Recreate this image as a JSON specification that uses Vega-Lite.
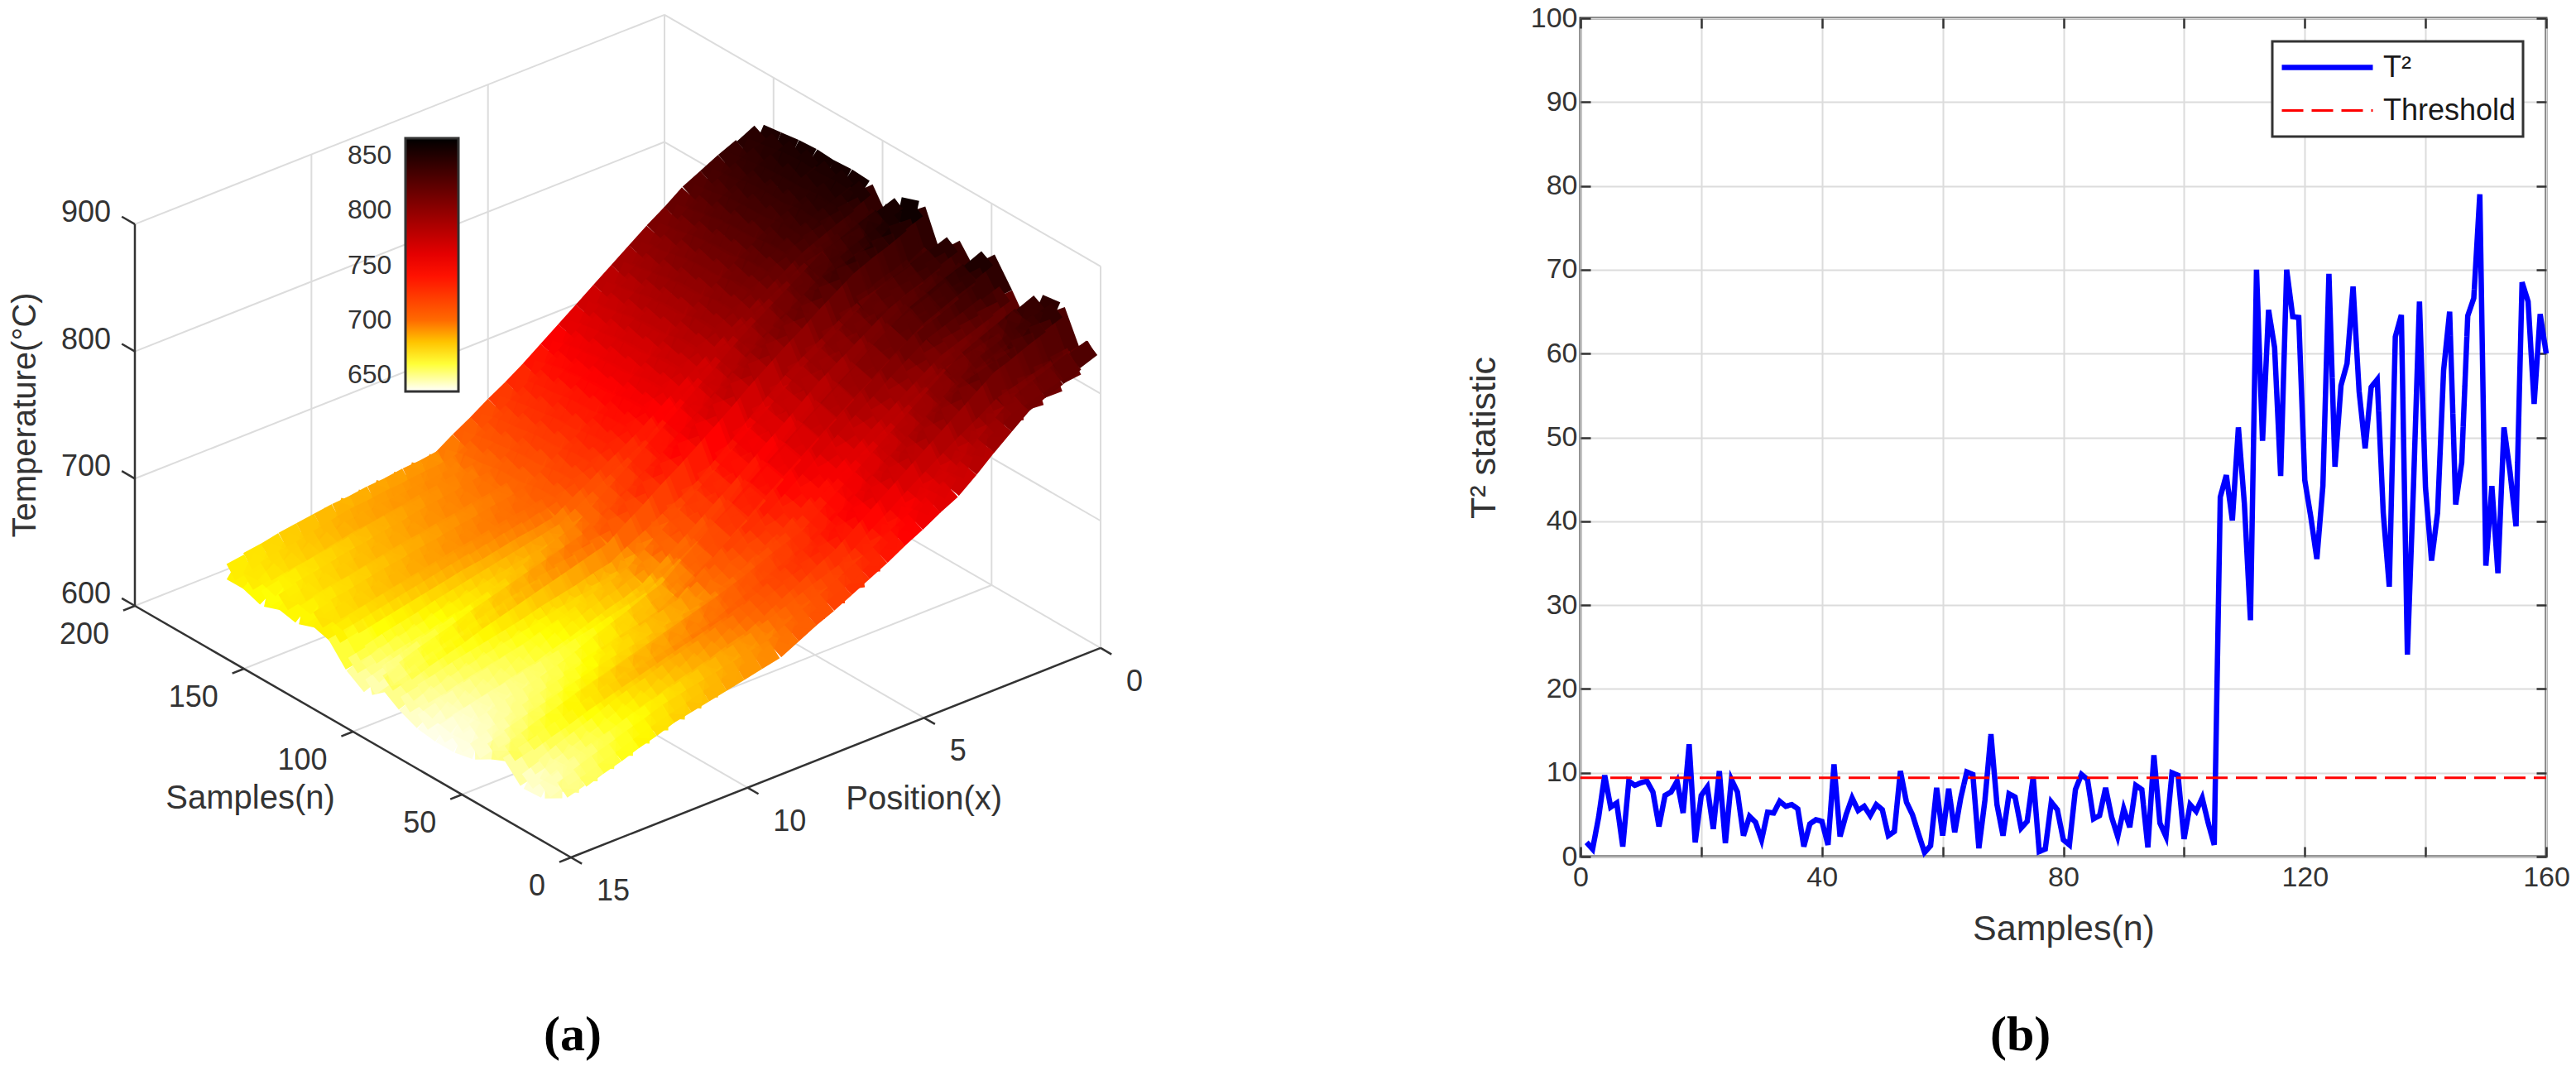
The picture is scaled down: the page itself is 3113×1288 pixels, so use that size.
{"$schema":"https://vega.github.io/schema/vega-lite/v6.json","padding":{"left":0,"top":3,"right":0,"bottom":0},"background":"white","spacing":0,"bounds":"flush","config":{"view":{"stroke":null},"font":"Liberation Sans","legend":{"strokeWidth":3}},
"resolve":{"scale":{"color":"independent","strokeDash":"independent","strokeWidth":"independent"},"legend":{"color":"independent","strokeDash":"independent","strokeWidth":"independent"}},
"datasets":{
"frame":[
{"k":"g","p":15,"s":200,"z":700,"p2":0,"s2":200,"z2":700},{"k":"g","p":15,"s":200,"z":800,"p2":0,"s2":200,"z2":800},{"k":"g","p":15,"s":200,"z":900,"p2":0,"s2":200,"z2":900},{"k":"g","p":15,"s":200,"z":600,"p2":0,"s2":200,"z2":600},
{"k":"g","p":10,"s":200,"z":600,"p2":10,"s2":200,"z2":900},{"k":"g","p":5,"s":200,"z":600,"p2":5,"s2":200,"z2":900},{"k":"g","p":0,"s":200,"z":600,"p2":0,"s2":200,"z2":900},
{"k":"g","p":0,"s":200,"z":700,"p2":0,"s2":0,"z2":700},{"k":"g","p":0,"s":200,"z":800,"p2":0,"s2":0,"z2":800},{"k":"g","p":0,"s":200,"z":900,"p2":0,"s2":0,"z2":900},{"k":"g","p":0,"s":200,"z":600,"p2":0,"s2":0,"z2":600},
{"k":"g","p":0,"s":150,"z":600,"p2":0,"s2":150,"z2":900},{"k":"g","p":0,"s":100,"z":600,"p2":0,"s2":100,"z2":900},{"k":"g","p":0,"s":50,"z":600,"p2":0,"s2":50,"z2":900},{"k":"g","p":0,"s":0,"z":600,"p2":0,"s2":0,"z2":900},
{"k":"g","p":15,"s":50,"z":600,"p2":0,"s2":50,"z2":600},{"k":"g","p":15,"s":100,"z":600,"p2":0,"s2":100,"z2":600},{"k":"g","p":15,"s":150,"z":600,"p2":0,"s2":150,"z2":600},
{"k":"g","p":5,"s":0,"z":600,"p2":5,"s2":200,"z2":600},{"k":"g","p":10,"s":0,"z":600,"p2":10,"s2":200,"z2":600},
{"k":"a","p":15,"s":200,"z":600,"p2":15,"s2":200,"z2":900},{"k":"a","p":15,"s":0,"z":600,"p2":15,"s2":200,"z2":600},{"k":"a","p":0,"s":0,"z":600,"p2":15,"s2":0,"z2":600},
{"k":"a","p":15,"s":200,"z":600,"p2":15,"s2":206,"z2":600},{"k":"a","p":15,"s":200,"z":700,"p2":15,"s2":206,"z2":700},{"k":"a","p":15,"s":200,"z":800,"p2":15,"s2":206,"z2":800},{"k":"a","p":15,"s":200,"z":900,"p2":15,"s2":206,"z2":900},
{"k":"a","p":15,"s":0,"z":600,"p2":15.33,"s2":0,"z2":600},{"k":"a","p":15,"s":50,"z":600,"p2":15.33,"s2":50,"z2":600},{"k":"a","p":15,"s":100,"z":600,"p2":15.33,"s2":100,"z2":600},{"k":"a","p":15,"s":150,"z":600,"p2":15.33,"s2":150,"z2":600},{"k":"a","p":15,"s":200,"z":600,"p2":15.33,"s2":200,"z2":600},
{"k":"a","p":0,"s":0,"z":600,"p2":0,"s2":-5,"z2":600},{"k":"a","p":5,"s":0,"z":600,"p2":5,"s2":-5,"z2":600},{"k":"a","p":10,"s":0,"z":600,"p2":10,"s2":-5,"z2":600},{"k":"a","p":15,"s":0,"z":600,"p2":15,"s2":-5,"z2":600}
],
"labels":[
{"k":"z","p":15,"s":200,"z":600,"text":"600"},{"k":"z","p":15,"s":200,"z":700,"text":"700"},{"k":"z","p":15,"s":200,"z":800,"text":"800"},{"k":"z","p":15,"s":200,"z":900,"text":"900"},
{"k":"s","p":15,"s":0,"z":600,"text":"0"},{"k":"s","p":15,"s":50,"z":600,"text":"50"},{"k":"s","p":15,"s":100,"z":600,"text":"100"},{"k":"s","p":15,"s":150,"z":600,"text":"150"},{"k":"s","p":15,"s":200,"z":600,"text":"200"},
{"k":"p","p":0,"s":0,"z":600,"text":"0"},{"k":"p","p":5,"s":0,"z":600,"text":"5"},{"k":"p","p":10,"s":0,"z":600,"text":"10"},{"k":"p","p":15,"s":0,"z":600,"text":"15"},
{"k":"ts","p":15,"s":100,"z":600,"text":"Samples(n)"},{"k":"tp","p":5,"s":0,"z":600,"text":"Position(x)"},{"k":"tz","p":15,"s":200,"z":750,"text":"Temperature(°C)"}
],
"surface":[
{"p":0,"s":156,"t":851},{"p":0.5,"s":156,"t":844},{"p":1,"s":156,"t":838},{"p":1.5,"s":156,"t":831},{"p":2,"s":156,"t":824},{"p":2.5,"s":156,"t":814},{"p":3,"s":156,"t":805},{"p":3.5,"s":156,"t":795},{"p":4,"s":156,"t":785},{"p":4.5,"s":156,"t":775},{"p":5,"s":156,"t":765},{"p":5.5,"s":156,"t":755},{"p":6,"s":156,"t":745},{"p":6.5,"s":156,"t":735},{"p":7,"s":156,"t":726},{"p":7.5,"s":156,"t":718},{"p":8,"s":156,"t":709},{"p":8.5,"s":156,"t":701},{"p":9,"s":156,"t":692},{"p":9.5,"s":156,"t":690},{"p":10,"s":156,"t":689},{"p":10.5,"s":156,"t":687},{"p":11,"s":156,"t":686},{"p":11.5,"s":156,"t":684},{"p":12,"s":156,"t":683},{"p":12.5,"s":156,"t":681},{"p":13,"s":156,"t":679},{"p":13.5,"s":156,"t":677},{"p":14,"s":156,"t":674},{"p":14.5,"s":156,"t":672},{"p":15,"s":156,"t":670},
{"p":0,"s":148,"t":853},{"p":0.5,"s":148,"t":846},{"p":1,"s":148,"t":840},{"p":1.5,"s":148,"t":833},{"p":2,"s":148,"t":826},{"p":2.5,"s":148,"t":816},{"p":3,"s":148,"t":806},{"p":3.5,"s":148,"t":797},{"p":4,"s":148,"t":787},{"p":4.5,"s":148,"t":777},{"p":5,"s":148,"t":767},{"p":5.5,"s":148,"t":758},{"p":6,"s":148,"t":748},{"p":6.5,"s":148,"t":738},{"p":7,"s":148,"t":730},{"p":7.5,"s":148,"t":721},{"p":8,"s":148,"t":713},{"p":8.5,"s":148,"t":704},{"p":9,"s":148,"t":696},{"p":9.5,"s":148,"t":694},{"p":10,"s":148,"t":693},{"p":10.5,"s":148,"t":691},{"p":11,"s":148,"t":690},{"p":11.5,"s":148,"t":688},{"p":12,"s":148,"t":687},{"p":12.5,"s":148,"t":684},{"p":13,"s":148,"t":681},{"p":13.5,"s":148,"t":678},{"p":14,"s":148,"t":676},{"p":14.5,"s":148,"t":673},{"p":15,"s":148,"t":670},
{"p":0,"s":140,"t":855},{"p":0.5,"s":140,"t":849},{"p":1,"s":140,"t":842},{"p":1.5,"s":140,"t":836},{"p":2,"s":140,"t":829},{"p":2.5,"s":140,"t":819},{"p":3,"s":140,"t":810},{"p":3.5,"s":140,"t":800},{"p":4,"s":140,"t":790},{"p":4.5,"s":140,"t":780},{"p":5,"s":140,"t":770},{"p":5.5,"s":140,"t":760},{"p":6,"s":140,"t":750},{"p":6.5,"s":140,"t":740},{"p":7,"s":140,"t":731},{"p":7.5,"s":140,"t":723},{"p":8,"s":140,"t":714},{"p":8.5,"s":140,"t":706},{"p":9,"s":140,"t":697},{"p":9.5,"s":140,"t":695},{"p":10,"s":140,"t":692},{"p":10.5,"s":140,"t":690},{"p":11,"s":140,"t":687},{"p":11.5,"s":140,"t":685},{"p":12,"s":140,"t":682},{"p":12.5,"s":140,"t":679},{"p":13,"s":140,"t":676},{"p":13.5,"s":140,"t":674},{"p":14,"s":140,"t":671},{"p":14.5,"s":140,"t":668},{"p":15,"s":140,"t":665},
{"p":0,"s":132,"t":856},{"p":0.5,"s":132,"t":850},{"p":1,"s":132,"t":843},{"p":1.5,"s":132,"t":837},{"p":2,"s":132,"t":830},{"p":2.5,"s":132,"t":821},{"p":3,"s":132,"t":811},{"p":3.5,"s":132,"t":802},{"p":4,"s":132,"t":792},{"p":4.5,"s":132,"t":782},{"p":5,"s":132,"t":772},{"p":5.5,"s":132,"t":762},{"p":6,"s":132,"t":752},{"p":6.5,"s":132,"t":742},{"p":7,"s":132,"t":734},{"p":7.5,"s":132,"t":725},{"p":8,"s":132,"t":717},{"p":8.5,"s":132,"t":708},{"p":9,"s":132,"t":700},{"p":9.5,"s":132,"t":698},{"p":10,"s":132,"t":695},{"p":10.5,"s":132,"t":693},{"p":11,"s":132,"t":691},{"p":11.5,"s":132,"t":688},{"p":12,"s":132,"t":686},{"p":12.5,"s":132,"t":683},{"p":13,"s":132,"t":681},{"p":13.5,"s":132,"t":678},{"p":14,"s":132,"t":675},{"p":14.5,"s":132,"t":673},{"p":15,"s":132,"t":670},
{"p":0,"s":124,"t":855},{"p":0.5,"s":124,"t":849},{"p":1,"s":124,"t":843},{"p":1.5,"s":124,"t":836},{"p":2,"s":124,"t":830},{"p":2.5,"s":124,"t":821},{"p":3,"s":124,"t":811},{"p":3.5,"s":124,"t":802},{"p":4,"s":124,"t":792},{"p":4.5,"s":124,"t":782},{"p":5,"s":124,"t":772},{"p":5.5,"s":124,"t":762},{"p":6,"s":124,"t":752},{"p":6.5,"s":124,"t":742},{"p":7,"s":124,"t":733},{"p":7.5,"s":124,"t":725},{"p":8,"s":124,"t":716},{"p":8.5,"s":124,"t":708},{"p":9,"s":124,"t":699},{"p":9.5,"s":124,"t":696},{"p":10,"s":124,"t":694},{"p":10.5,"s":124,"t":691},{"p":11,"s":124,"t":689},{"p":11.5,"s":124,"t":686},{"p":12,"s":124,"t":684},{"p":12.5,"s":124,"t":681},{"p":13,"s":124,"t":678},{"p":13.5,"s":124,"t":675},{"p":14,"s":124,"t":673},{"p":14.5,"s":124,"t":670},{"p":15,"s":124,"t":667},
{"p":0,"s":116,"t":856},{"p":0.5,"s":116,"t":850},{"p":1,"s":116,"t":845},{"p":1.5,"s":116,"t":839},{"p":2,"s":116,"t":833},{"p":2.5,"s":116,"t":824},{"p":3,"s":116,"t":815},{"p":3.5,"s":116,"t":805},{"p":4,"s":116,"t":796},{"p":4.5,"s":116,"t":786},{"p":5,"s":116,"t":776},{"p":5.5,"s":116,"t":765},{"p":6,"s":116,"t":755},{"p":6.5,"s":116,"t":745},{"p":7,"s":116,"t":737},{"p":7.5,"s":116,"t":728},{"p":8,"s":116,"t":720},{"p":8.5,"s":116,"t":711},{"p":9,"s":116,"t":703},{"p":9.5,"s":116,"t":700},{"p":10,"s":116,"t":698},{"p":10.5,"s":116,"t":695},{"p":11,"s":116,"t":693},{"p":11.5,"s":116,"t":690},{"p":12,"s":116,"t":688},{"p":12.5,"s":116,"t":685},{"p":13,"s":116,"t":683},{"p":13.5,"s":116,"t":680},{"p":14,"s":116,"t":677},{"p":14.5,"s":116,"t":675},{"p":15,"s":116,"t":672},
{"p":0,"s":108,"t":855},{"p":0.5,"s":108,"t":849},{"p":1,"s":108,"t":844},{"p":1.5,"s":108,"t":838},{"p":2,"s":108,"t":832},{"p":2.5,"s":108,"t":823},{"p":3,"s":108,"t":814},{"p":3.5,"s":108,"t":804},{"p":4,"s":108,"t":795},{"p":4.5,"s":108,"t":785},{"p":5,"s":108,"t":775},{"p":5.5,"s":108,"t":765},{"p":6,"s":108,"t":755},{"p":6.5,"s":108,"t":745},{"p":7,"s":108,"t":736},{"p":7.5,"s":108,"t":728},{"p":8,"s":108,"t":719},{"p":8.5,"s":108,"t":711},{"p":9,"s":108,"t":702},{"p":9.5,"s":108,"t":699},{"p":10,"s":108,"t":697},{"p":10.5,"s":108,"t":694},{"p":11,"s":108,"t":691},{"p":11.5,"s":108,"t":689},{"p":12,"s":108,"t":686},{"p":12.5,"s":108,"t":683},{"p":13,"s":108,"t":680},{"p":13.5,"s":108,"t":677},{"p":14,"s":108,"t":674},{"p":14.5,"s":108,"t":671},{"p":15,"s":108,"t":668},
{"p":0,"s":100,"t":833},{"p":0.5,"s":100,"t":830},{"p":1,"s":100,"t":827},{"p":1.5,"s":100,"t":823},{"p":2,"s":100,"t":820},{"p":2.5,"s":100,"t":811},{"p":3,"s":100,"t":803},{"p":3.5,"s":100,"t":794},{"p":4,"s":100,"t":785},{"p":4.5,"s":100,"t":774},{"p":5,"s":100,"t":763},{"p":5.5,"s":100,"t":752},{"p":6,"s":100,"t":741},{"p":6.5,"s":100,"t":730},{"p":7,"s":100,"t":722},{"p":7.5,"s":100,"t":714},{"p":8,"s":100,"t":706},{"p":8.5,"s":100,"t":698},{"p":9,"s":100,"t":690},{"p":9.5,"s":100,"t":687},{"p":10,"s":100,"t":684},{"p":10.5,"s":100,"t":681},{"p":11,"s":100,"t":678},{"p":11.5,"s":100,"t":675},{"p":12,"s":100,"t":672},{"p":12.5,"s":100,"t":669},{"p":13,"s":100,"t":665},{"p":13.5,"s":100,"t":662},{"p":14,"s":100,"t":659},{"p":14.5,"s":100,"t":655},{"p":15,"s":100,"t":652},
{"p":0,"s":92,"t":857},{"p":0.5,"s":92,"t":852},{"p":1,"s":92,"t":847},{"p":1.5,"s":92,"t":841},{"p":2,"s":92,"t":836},{"p":2.5,"s":92,"t":827},{"p":3,"s":92,"t":818},{"p":3.5,"s":92,"t":809},{"p":4,"s":92,"t":800},{"p":4.5,"s":92,"t":790},{"p":5,"s":92,"t":779},{"p":5.5,"s":92,"t":769},{"p":6,"s":92,"t":758},{"p":6.5,"s":92,"t":748},{"p":7,"s":92,"t":738},{"p":7.5,"s":92,"t":728},{"p":8,"s":92,"t":718},{"p":8.5,"s":92,"t":708},{"p":9,"s":92,"t":698},{"p":9.5,"s":92,"t":693},{"p":10,"s":92,"t":688},{"p":10.5,"s":92,"t":683},{"p":11,"s":92,"t":678},{"p":11.5,"s":92,"t":673},{"p":12,"s":92,"t":668},{"p":12.5,"s":92,"t":664},{"p":13,"s":92,"t":660},{"p":13.5,"s":92,"t":656},{"p":14,"s":92,"t":651},{"p":14.5,"s":92,"t":647},{"p":15,"s":92,"t":643},
{"p":0,"s":84,"t":862},{"p":0.5,"s":84,"t":857},{"p":1,"s":84,"t":851},{"p":1.5,"s":84,"t":846},{"p":2,"s":84,"t":840},{"p":2.5,"s":84,"t":831},{"p":3,"s":84,"t":822},{"p":3.5,"s":84,"t":812},{"p":4,"s":84,"t":803},{"p":4.5,"s":84,"t":793},{"p":5,"s":84,"t":783},{"p":5.5,"s":84,"t":772},{"p":6,"s":84,"t":762},{"p":6.5,"s":84,"t":752},{"p":7,"s":84,"t":742},{"p":7.5,"s":84,"t":733},{"p":8,"s":84,"t":723},{"p":8.5,"s":84,"t":714},{"p":9,"s":84,"t":704},{"p":9.5,"s":84,"t":700},{"p":10,"s":84,"t":696},{"p":10.5,"s":84,"t":692},{"p":11,"s":84,"t":688},{"p":11.5,"s":84,"t":684},{"p":12,"s":84,"t":680},{"p":12.5,"s":84,"t":676},{"p":13,"s":84,"t":671},{"p":13.5,"s":84,"t":667},{"p":14,"s":84,"t":663},{"p":14.5,"s":84,"t":658},{"p":15,"s":84,"t":654},
{"p":0,"s":76,"t":828},{"p":0.5,"s":76,"t":824},{"p":1,"s":76,"t":820},{"p":1.5,"s":76,"t":816},{"p":2,"s":76,"t":812},{"p":2.5,"s":76,"t":804},{"p":3,"s":76,"t":795},{"p":3.5,"s":76,"t":787},{"p":4,"s":76,"t":778},{"p":4.5,"s":76,"t":767},{"p":5,"s":76,"t":756},{"p":5.5,"s":76,"t":744},{"p":6,"s":76,"t":733},{"p":6.5,"s":76,"t":722},{"p":7,"s":76,"t":714},{"p":7.5,"s":76,"t":707},{"p":8,"s":76,"t":699},{"p":8.5,"s":76,"t":692},{"p":9,"s":76,"t":684},{"p":9.5,"s":76,"t":681},{"p":10,"s":76,"t":677},{"p":10.5,"s":76,"t":674},{"p":11,"s":76,"t":671},{"p":11.5,"s":76,"t":667},{"p":12,"s":76,"t":664},{"p":12.5,"s":76,"t":661},{"p":13,"s":76,"t":658},{"p":13.5,"s":76,"t":655},{"p":14,"s":76,"t":651},{"p":14.5,"s":76,"t":648},{"p":15,"s":76,"t":645},
{"p":0,"s":68,"t":850},{"p":0.5,"s":68,"t":845},{"p":1,"s":68,"t":839},{"p":1.5,"s":68,"t":834},{"p":2,"s":68,"t":828},{"p":2.5,"s":68,"t":819},{"p":3,"s":68,"t":810},{"p":3.5,"s":68,"t":801},{"p":4,"s":68,"t":792},{"p":4.5,"s":68,"t":781},{"p":5,"s":68,"t":770},{"p":5.5,"s":68,"t":760},{"p":6,"s":68,"t":749},{"p":6.5,"s":68,"t":738},{"p":7,"s":68,"t":728},{"p":7.5,"s":68,"t":718},{"p":8,"s":68,"t":708},{"p":8.5,"s":68,"t":698},{"p":9,"s":68,"t":688},{"p":9.5,"s":68,"t":683},{"p":10,"s":68,"t":679},{"p":10.5,"s":68,"t":674},{"p":11,"s":68,"t":669},{"p":11.5,"s":68,"t":665},{"p":12,"s":68,"t":660},{"p":12.5,"s":68,"t":657},{"p":13,"s":68,"t":653},{"p":13.5,"s":68,"t":650},{"p":14,"s":68,"t":646},{"p":14.5,"s":68,"t":643},{"p":15,"s":68,"t":639},
{"p":0,"s":60,"t":832},{"p":0.5,"s":60,"t":827},{"p":1,"s":60,"t":821},{"p":1.5,"s":60,"t":816},{"p":2,"s":60,"t":810},{"p":2.5,"s":60,"t":800},{"p":3,"s":60,"t":790},{"p":3.5,"s":60,"t":780},{"p":4,"s":60,"t":770},{"p":4.5,"s":60,"t":760},{"p":5,"s":60,"t":749},{"p":5.5,"s":60,"t":739},{"p":6,"s":60,"t":728},{"p":6.5,"s":60,"t":718},{"p":7,"s":60,"t":710},{"p":7.5,"s":60,"t":701},{"p":8,"s":60,"t":693},{"p":8.5,"s":60,"t":684},{"p":9,"s":60,"t":676},{"p":9.5,"s":60,"t":672},{"p":10,"s":60,"t":669},{"p":10.5,"s":60,"t":665},{"p":11,"s":60,"t":662},{"p":11.5,"s":60,"t":658},{"p":12,"s":60,"t":655},{"p":12.5,"s":60,"t":652},{"p":13,"s":60,"t":649},{"p":13.5,"s":60,"t":646},{"p":14,"s":60,"t":643},{"p":14.5,"s":60,"t":640},{"p":15,"s":60,"t":637},
{"p":0,"s":52,"t":855},{"p":0.5,"s":52,"t":849},{"p":1,"s":52,"t":844},{"p":1.5,"s":52,"t":838},{"p":2,"s":52,"t":832},{"p":2.5,"s":52,"t":823},{"p":3,"s":52,"t":814},{"p":3.5,"s":52,"t":804},{"p":4,"s":52,"t":795},{"p":4.5,"s":52,"t":785},{"p":5,"s":52,"t":775},{"p":5.5,"s":52,"t":765},{"p":6,"s":52,"t":755},{"p":6.5,"s":52,"t":745},{"p":7,"s":52,"t":734},{"p":7.5,"s":52,"t":724},{"p":8,"s":52,"t":713},{"p":8.5,"s":52,"t":703},{"p":9,"s":52,"t":692},{"p":9.5,"s":52,"t":687},{"p":10,"s":52,"t":681},{"p":10.5,"s":52,"t":676},{"p":11,"s":52,"t":671},{"p":11.5,"s":52,"t":665},{"p":12,"s":52,"t":660},{"p":12.5,"s":52,"t":656},{"p":13,"s":52,"t":652},{"p":13.5,"s":52,"t":649},{"p":14,"s":52,"t":645},{"p":14.5,"s":52,"t":641},{"p":15,"s":52,"t":637},
{"p":0,"s":44,"t":835},{"p":0.5,"s":44,"t":830},{"p":1,"s":44,"t":825},{"p":1.5,"s":44,"t":820},{"p":2,"s":44,"t":815},{"p":2.5,"s":44,"t":806},{"p":3,"s":44,"t":797},{"p":3.5,"s":44,"t":787},{"p":4,"s":44,"t":778},{"p":4.5,"s":44,"t":768},{"p":5,"s":44,"t":758},{"p":5.5,"s":44,"t":748},{"p":6,"s":44,"t":738},{"p":6.5,"s":44,"t":728},{"p":7,"s":44,"t":720},{"p":7.5,"s":44,"t":712},{"p":8,"s":44,"t":704},{"p":8.5,"s":44,"t":696},{"p":9,"s":44,"t":688},{"p":9.5,"s":44,"t":684},{"p":10,"s":44,"t":680},{"p":10.5,"s":44,"t":676},{"p":11,"s":44,"t":673},{"p":11.5,"s":44,"t":669},{"p":12,"s":44,"t":665},{"p":12.5,"s":44,"t":661},{"p":13,"s":44,"t":657},{"p":13.5,"s":44,"t":653},{"p":14,"s":44,"t":648},{"p":14.5,"s":44,"t":644},{"p":15,"s":44,"t":640},
{"p":0,"s":36,"t":813},{"p":0.5,"s":36,"t":810},{"p":1,"s":36,"t":807},{"p":1.5,"s":36,"t":803},{"p":2,"s":36,"t":800},{"p":2.5,"s":36,"t":791},{"p":3,"s":36,"t":783},{"p":3.5,"s":36,"t":774},{"p":4,"s":36,"t":765},{"p":4.5,"s":36,"t":756},{"p":5,"s":36,"t":747},{"p":5.5,"s":36,"t":738},{"p":6,"s":36,"t":729},{"p":6.5,"s":36,"t":720},{"p":7,"s":36,"t":714},{"p":7.5,"s":36,"t":708},{"p":8,"s":36,"t":702},{"p":8.5,"s":36,"t":696},{"p":9,"s":36,"t":690},{"p":9.5,"s":36,"t":687},{"p":10,"s":36,"t":684},{"p":10.5,"s":36,"t":681},{"p":11,"s":36,"t":678},{"p":11.5,"s":36,"t":675},{"p":12,"s":36,"t":672},{"p":12.5,"s":36,"t":668},{"p":13,"s":36,"t":664},{"p":13.5,"s":36,"t":660},{"p":14,"s":36,"t":656},{"p":14.5,"s":36,"t":652},{"p":15,"s":36,"t":648},
{"p":0,"s":28,"t":844},{"p":0.5,"s":28,"t":838},{"p":1,"s":28,"t":832},{"p":1.5,"s":28,"t":826},{"p":2,"s":28,"t":820},{"p":2.5,"s":28,"t":810},{"p":3,"s":28,"t":800},{"p":3.5,"s":28,"t":790},{"p":4,"s":28,"t":780},{"p":4.5,"s":28,"t":770},{"p":5,"s":28,"t":760},{"p":5.5,"s":28,"t":750},{"p":6,"s":28,"t":740},{"p":6.5,"s":28,"t":730},{"p":7,"s":28,"t":725},{"p":7.5,"s":28,"t":720},{"p":8,"s":28,"t":714},{"p":8.5,"s":28,"t":709},{"p":9,"s":28,"t":704},{"p":9.5,"s":28,"t":700},{"p":10,"s":28,"t":696},{"p":10.5,"s":28,"t":692},{"p":11,"s":28,"t":688},{"p":11.5,"s":28,"t":684},{"p":12,"s":28,"t":680},{"p":12.5,"s":28,"t":676},{"p":13,"s":28,"t":672},{"p":13.5,"s":28,"t":667},{"p":14,"s":28,"t":663},{"p":14.5,"s":28,"t":658},{"p":15,"s":28,"t":654},
{"p":0,"s":20,"t":846},{"p":0.5,"s":20,"t":841},{"p":1,"s":20,"t":836},{"p":1.5,"s":20,"t":830},{"p":2,"s":20,"t":825},{"p":2.5,"s":20,"t":815},{"p":3,"s":20,"t":805},{"p":3.5,"s":20,"t":795},{"p":4,"s":20,"t":785},{"p":4.5,"s":20,"t":775},{"p":5,"s":20,"t":765},{"p":5.5,"s":20,"t":755},{"p":6,"s":20,"t":745},{"p":6.5,"s":20,"t":735},{"p":7,"s":20,"t":728},{"p":7.5,"s":20,"t":720},{"p":8,"s":20,"t":713},{"p":8.5,"s":20,"t":705},{"p":9,"s":20,"t":698},{"p":9.5,"s":20,"t":694},{"p":10,"s":20,"t":689},{"p":10.5,"s":20,"t":685},{"p":11,"s":20,"t":681},{"p":11.5,"s":20,"t":676},{"p":12,"s":20,"t":672},{"p":12.5,"s":20,"t":667},{"p":13,"s":20,"t":661},{"p":13.5,"s":20,"t":656},{"p":14,"s":20,"t":651},{"p":14.5,"s":20,"t":645},{"p":15,"s":20,"t":640},
{"p":0,"s":12,"t":816},{"p":0.5,"s":12,"t":812},{"p":1,"s":12,"t":808},{"p":1.5,"s":12,"t":804},{"p":2,"s":12,"t":800},{"p":2.5,"s":12,"t":791},{"p":3,"s":12,"t":783},{"p":3.5,"s":12,"t":774},{"p":4,"s":12,"t":765},{"p":4.5,"s":12,"t":756},{"p":5,"s":12,"t":746},{"p":5.5,"s":12,"t":737},{"p":6,"s":12,"t":727},{"p":6.5,"s":12,"t":718},{"p":7,"s":12,"t":713},{"p":7.5,"s":12,"t":708},{"p":8,"s":12,"t":702},{"p":8.5,"s":12,"t":697},{"p":9,"s":12,"t":692},{"p":9.5,"s":12,"t":688},{"p":10,"s":12,"t":684},{"p":10.5,"s":12,"t":680},{"p":11,"s":12,"t":676},{"p":11.5,"s":12,"t":672},{"p":12,"s":12,"t":668},{"p":12.5,"s":12,"t":664},{"p":13,"s":12,"t":659},{"p":13.5,"s":12,"t":655},{"p":14,"s":12,"t":650},{"p":14.5,"s":12,"t":646},{"p":15,"s":12,"t":641},
{"p":0,"s":4,"t":832},{"p":0.5,"s":4,"t":827},{"p":1,"s":4,"t":821},{"p":1.5,"s":4,"t":816},{"p":2,"s":4,"t":810},{"p":2.5,"s":4,"t":799},{"p":3,"s":4,"t":788},{"p":3.5,"s":4,"t":776},{"p":4,"s":4,"t":765},{"p":4.5,"s":4,"t":758},{"p":5,"s":4,"t":750},{"p":5.5,"s":4,"t":743},{"p":6,"s":4,"t":735},{"p":6.5,"s":4,"t":728},{"p":7,"s":4,"t":721},{"p":7.5,"s":4,"t":714},{"p":8,"s":4,"t":708},{"p":8.5,"s":4,"t":701},{"p":9,"s":4,"t":694},{"p":9.5,"s":4,"t":691},{"p":10,"s":4,"t":688},{"p":10.5,"s":4,"t":685},{"p":11,"s":4,"t":682},{"p":11.5,"s":4,"t":679},{"p":12,"s":4,"t":676},{"p":12.5,"s":4,"t":671},{"p":13,"s":4,"t":667},{"p":13.5,"s":4,"t":662},{"p":14,"s":4,"t":658},{"p":14.5,"s":4,"t":653},{"p":15,"s":4,"t":649}
],
"t2":[
{"n":1,"v":1.7,"series":"T²"},{"n":2,"v":0.9,"series":"T²"},{"n":3,"v":4.7,"series":"T²"},{"n":4,"v":9.7,"series":"T²"},{"n":5,"v":5.9,"series":"T²"},{"n":6,"v":6.4,"series":"T²"},{"n":7,"v":1.2,"series":"T²"},{"n":8,"v":9.0,"series":"T²"},{"n":9,"v":8.5,"series":"T²"},{"n":10,"v":8.8,"series":"T²"},{"n":11,"v":9.0,"series":"T²"},{"n":12,"v":7.7,"series":"T²"},{"n":13,"v":3.6,"series":"T²"},{"n":14,"v":7.3,"series":"T²"},{"n":15,"v":7.7,"series":"T²"},{"n":16,"v":9.0,"series":"T²"},{"n":17,"v":5.2,"series":"T²"},{"n":18,"v":13.4,"series":"T²"},{"n":19,"v":1.7,"series":"T²"},{"n":20,"v":7.3,"series":"T²"},
{"n":21,"v":8.3,"series":"T²"},{"n":22,"v":3.3,"series":"T²"},{"n":23,"v":10.2,"series":"T²"},{"n":24,"v":1.6,"series":"T²"},{"n":25,"v":9.2,"series":"T²"},{"n":26,"v":7.7,"series":"T²"},{"n":27,"v":2.5,"series":"T²"},{"n":28,"v":4.8,"series":"T²"},{"n":29,"v":4.1,"series":"T²"},{"n":30,"v":2.0,"series":"T²"},{"n":31,"v":5.3,"series":"T²"},{"n":32,"v":5.2,"series":"T²"},{"n":33,"v":6.6,"series":"T²"},{"n":34,"v":6.0,"series":"T²"},{"n":35,"v":6.2,"series":"T²"},{"n":36,"v":5.7,"series":"T²"},{"n":37,"v":1.2,"series":"T²"},{"n":38,"v":3.9,"series":"T²"},{"n":39,"v":4.4,"series":"T²"},{"n":40,"v":4.2,"series":"T²"},
{"n":41,"v":1.4,"series":"T²"},{"n":42,"v":11.0,"series":"T²"},{"n":43,"v":2.4,"series":"T²"},{"n":44,"v":5.0,"series":"T²"},{"n":45,"v":7.0,"series":"T²"},{"n":46,"v":5.5,"series":"T²"},{"n":47,"v":6.0,"series":"T²"},{"n":48,"v":4.9,"series":"T²"},{"n":49,"v":6.2,"series":"T²"},{"n":50,"v":5.6,"series":"T²"},{"n":51,"v":2.5,"series":"T²"},{"n":52,"v":3.0,"series":"T²"},{"n":53,"v":10.2,"series":"T²"},{"n":54,"v":6.5,"series":"T²"},{"n":55,"v":5.0,"series":"T²"},{"n":56,"v":2.7,"series":"T²"},{"n":57,"v":0.5,"series":"T²"},{"n":58,"v":1.3,"series":"T²"},{"n":59,"v":8.2,"series":"T²"},{"n":60,"v":2.5,"series":"T²"},
{"n":61,"v":8.1,"series":"T²"},{"n":62,"v":2.9,"series":"T²"},{"n":63,"v":7.0,"series":"T²"},{"n":64,"v":10.1,"series":"T²"},{"n":65,"v":9.8,"series":"T²"},{"n":66,"v":1.0,"series":"T²"},{"n":67,"v":6.7,"series":"T²"},{"n":68,"v":14.6,"series":"T²"},{"n":69,"v":6.2,"series":"T²"},{"n":70,"v":2.5,"series":"T²"},{"n":71,"v":7.5,"series":"T²"},{"n":72,"v":7.1,"series":"T²"},{"n":73,"v":3.4,"series":"T²"},{"n":74,"v":4.2,"series":"T²"},{"n":75,"v":9.5,"series":"T²"},{"n":76,"v":0.6,"series":"T²"},{"n":77,"v":0.9,"series":"T²"},{"n":78,"v":6.5,"series":"T²"},{"n":79,"v":5.6,"series":"T²"},{"n":80,"v":2.0,"series":"T²"},
{"n":81,"v":1.4,"series":"T²"},{"n":82,"v":8.0,"series":"T²"},{"n":83,"v":9.8,"series":"T²"},{"n":84,"v":9.2,"series":"T²"},{"n":85,"v":4.5,"series":"T²"},{"n":86,"v":4.9,"series":"T²"},{"n":87,"v":8.2,"series":"T²"},{"n":88,"v":4.7,"series":"T²"},{"n":89,"v":2.4,"series":"T²"},{"n":90,"v":5.7,"series":"T²"},{"n":91,"v":3.5,"series":"T²"},{"n":92,"v":8.5,"series":"T²"},{"n":93,"v":8.0,"series":"T²"},{"n":94,"v":1.1,"series":"T²"},{"n":95,"v":12.1,"series":"T²"},{"n":96,"v":4.0,"series":"T²"},{"n":97,"v":2.4,"series":"T²"},{"n":98,"v":10.0,"series":"T²"},{"n":99,"v":9.7,"series":"T²"},{"n":100,"v":2.1,"series":"T²"},
{"n":101,"v":6.2,"series":"T²"},{"n":102,"v":5.4,"series":"T²"},{"n":103,"v":7.0,"series":"T²"},{"n":104,"v":4.0,"series":"T²"},{"n":105,"v":1.4,"series":"T²"},{"n":106,"v":42.9,"series":"T²"},{"n":107,"v":45.5,"series":"T²"},{"n":108,"v":40.1,"series":"T²"},{"n":109,"v":51.2,"series":"T²"},{"n":110,"v":42.0,"series":"T²"},{"n":111,"v":28.2,"series":"T²"},{"n":112,"v":70.0,"series":"T²"},{"n":113,"v":49.6,"series":"T²"},{"n":114,"v":65.2,"series":"T²"},{"n":115,"v":60.7,"series":"T²"},{"n":116,"v":45.4,"series":"T²"},{"n":117,"v":70.0,"series":"T²"},{"n":118,"v":64.4,"series":"T²"},{"n":119,"v":64.3,"series":"T²"},{"n":120,"v":44.9,"series":"T²"},
{"n":121,"v":40.5,"series":"T²"},{"n":122,"v":35.5,"series":"T²"},{"n":123,"v":44.2,"series":"T²"},{"n":124,"v":69.5,"series":"T²"},{"n":125,"v":46.5,"series":"T²"},{"n":126,"v":56.2,"series":"T²"},{"n":127,"v":58.8,"series":"T²"},{"n":128,"v":68.0,"series":"T²"},{"n":129,"v":55.5,"series":"T²"},{"n":130,"v":48.7,"series":"T²"},{"n":131,"v":56.0,"series":"T²"},{"n":132,"v":56.9,"series":"T²"},{"n":133,"v":41.0,"series":"T²"},{"n":134,"v":32.2,"series":"T²"},{"n":135,"v":62.0,"series":"T²"},{"n":136,"v":64.6,"series":"T²"},{"n":137,"v":24.1,"series":"T²"},{"n":138,"v":44.0,"series":"T²"},{"n":139,"v":66.2,"series":"T²"},{"n":140,"v":44.0,"series":"T²"},
{"n":141,"v":35.3,"series":"T²"},{"n":142,"v":41.0,"series":"T²"},{"n":143,"v":58.0,"series":"T²"},{"n":144,"v":65.0,"series":"T²"},{"n":145,"v":42.0,"series":"T²"},{"n":146,"v":47.0,"series":"T²"},{"n":147,"v":64.5,"series":"T²"},{"n":148,"v":66.6,"series":"T²"},{"n":149,"v":79.0,"series":"T²"},{"n":150,"v":34.7,"series":"T²"},{"n":151,"v":44.2,"series":"T²"},{"n":152,"v":33.8,"series":"T²"},{"n":153,"v":51.2,"series":"T²"},{"n":154,"v":45.9,"series":"T²"},{"n":155,"v":39.4,"series":"T²"},{"n":156,"v":68.5,"series":"T²"},{"n":157,"v":66.2,"series":"T²"},{"n":158,"v":54.0,"series":"T²"},{"n":159,"v":64.7,"series":"T²"},{"n":160,"v":60.0,"series":"T²"},
{"n":0,"v":9.4,"series":"Threshold"},{"n":160,"v":9.4,"series":"Threshold"}
]
},
"hconcat":[
{"width":1910,"height":1160,
"title":{"text":"(a)","orient":"bottom","frame":"group","font":"Liberation Serif","fontWeight":"bold","fontSize":60,"color":"black","anchor":"start","dx":657,"offset":40},
"layer":[
{"data":{"name":"frame"},"transform":[{"filter":"datum.k=='g'"},
{"calculate":"690+(15-datum.p)*42.67-datum.s*2.635","as":"u"},{"calculate":"1034-(15-datum.p)*16.87-datum.s*1.52-(datum.z-600)*1.537","as":"v"},
{"calculate":"690+(15-datum.p2)*42.67-datum.s2*2.635","as":"u2"},{"calculate":"1034-(15-datum.p2)*16.87-datum.s2*1.52-(datum.z2-600)*1.537","as":"v2"}],
"mark":{"type":"rule","color":"#dcdcdc","strokeWidth":2},
"encoding":{"x":{"field":"u","type":"quantitative","scale":{"domain":[0,1910],"nice":false,"zero":false},"axis":null},"y":{"field":"v","type":"quantitative","scale":{"domain":[1180,20],"nice":false,"zero":false},"axis":null},"x2":{"field":"u2"},"y2":{"field":"v2"}}},
{"data":{"name":"frame"},"transform":[{"filter":"datum.k=='a'"},
{"calculate":"690+(15-datum.p)*42.67-datum.s*2.635","as":"u"},{"calculate":"1034-(15-datum.p)*16.87-datum.s*1.52-(datum.z-600)*1.537","as":"v"},
{"calculate":"690+(15-datum.p2)*42.67-datum.s2*2.635","as":"u2"},{"calculate":"1034-(15-datum.p2)*16.87-datum.s2*1.52-(datum.z2-600)*1.537","as":"v2"}],
"mark":{"type":"rule","color":"#333333","strokeWidth":2.5},
"encoding":{"x":{"field":"u","type":"quantitative","axis":null},"y":{"field":"v","type":"quantitative","axis":null},"x2":{"field":"u2"},"y2":{"field":"v2"}}},
{"data":{"name":"surface"},"transform":[
{"window":[{"op":"lead","field":"t","as":"t2"},{"op":"lead","field":"s","as":"s2"}],"groupby":["p"],"sort":[{"field":"s","order":"descending"}]},
{"filter":"isValid(datum.s2)"},
{"calculate":"(datum.t+datum.t2)/2","as":"temp"},
{"calculate":"690+(15-datum.p)*42.67-datum.s*2.635","as":"u"},{"calculate":"1034-(15-datum.p)*16.87-datum.s*1.52-(datum.t-600)*1.537","as":"v"},
{"calculate":"690+(15-datum.p)*42.67-datum.s2*2.635","as":"u2"},{"calculate":"1034-(15-datum.p)*16.87-datum.s2*1.52-(datum.t2-600)*1.537","as":"v2"}],
"mark":{"type":"rule","strokeCap":"butt"},
"encoding":{"x":{"field":"u","type":"quantitative","axis":null},"y":{"field":"v","type":"quantitative","axis":null},"x2":{"field":"u2"},"y2":{"field":"v2"},
"size":{"condition":[{"test":"datum.p>=1&&datum.p<=14","value":40},{"test":"datum.p>0&&datum.p<15","value":36}],"value":20},
"color":{"field":"temp","type":"quantitative","scale":{"domain":[635,667,700,748,866],"range":["#ffffff","#ffff00","#ff6a00","#ff0000","#000000"],"interpolate":"rgb"},
"legend":{"title":null,"orient":"none","legendX":490,"legendY":145,"direction":"vertical","gradientLength":306,"gradientThickness":64,"gradientStrokeColor":"#333333","gradientStrokeWidth":3,"values":[650,700,750,800,850],"labelOffset":-134,"labelFont":"Liberation Sans","labelFontSize":32,"labelColor":"#333333","padding":0}}}},
{"data":{"name":"surface"},"transform":[
{"window":[{"op":"lead","field":"t","as":"t2"},{"op":"lead","field":"p","as":"p2"}],"groupby":["s"],"sort":[{"field":"p"}]},
{"filter":"isValid(datum.p2)"},
{"calculate":"(datum.t+datum.t2)/2","as":"temp"},
{"calculate":"690+(15-datum.p)*42.67-datum.s*2.635","as":"u"},{"calculate":"1034-(15-datum.p)*16.87-datum.s*1.52-(datum.t-600)*1.537","as":"v"},
{"calculate":"690+(15-datum.p2)*42.67-datum.s*2.635","as":"u2"},{"calculate":"1034-(15-datum.p2)*16.87-datum.s*1.52-(datum.t2-600)*1.537","as":"v2"}],
"mark":{"type":"rule","strokeCap":"butt"},
"encoding":{"x":{"field":"u","type":"quantitative","axis":null},"y":{"field":"v","type":"quantitative","axis":null},"x2":{"field":"u2"},"y2":{"field":"v2"},
"size":{"condition":{"test":"datum.p==0||datum.p==14.5","value":22},"value":26},
"color":{"field":"temp","type":"quantitative",
"legend":{"title":null,"orient":"none","legendX":490,"legendY":145,"direction":"vertical","gradientLength":306,"gradientThickness":64,"gradientStrokeColor":"#333333","gradientStrokeWidth":3,"values":[650,700,750,800,850],"labelOffset":-134,"labelFont":"Liberation Sans","labelFontSize":32,"labelColor":"#333333","padding":0}}}},
{"data":{"name":"surface"},"transform":[
{"window":[{"op":"lead","field":"t","as":"t2"},{"op":"lead","field":"s","as":"s2"}],"groupby":["p"],"sort":[{"field":"s","order":"descending"}]},
{"filter":"isValid(datum.s2) && datum.p>0 && datum.p<15"},
{"calculate":"(datum.t+datum.t2)/2","as":"temp"},
{"calculate":"690+(15-datum.p)*42.67-datum.s*2.635","as":"u"},{"calculate":"1034-(15-datum.p)*16.87-datum.s*1.52-(datum.t-600)*1.537","as":"v"},
{"calculate":"690+(15-datum.p)*42.67-datum.s2*2.635","as":"u2"},{"calculate":"1034-(15-datum.p)*16.87-datum.s2*1.52-(datum.t2-600)*1.537","as":"v2"}],
"mark":{"type":"rule","strokeWidth":28,"strokeCap":"butt","strokeOpacity":0.5},
"encoding":{"x":{"field":"u","type":"quantitative","axis":null},"y":{"field":"v","type":"quantitative","axis":null},"x2":{"field":"u2"},"y2":{"field":"v2"},"color":{"field":"temp","type":"quantitative",
"legend":{"title":null,"orient":"none","legendX":490,"legendY":145,"direction":"vertical","gradientLength":306,"gradientThickness":64,"gradientStrokeColor":"#333333","gradientStrokeWidth":3,"values":[650,700,750,800,850],"labelOffset":-134,"labelFont":"Liberation Sans","labelFontSize":32,"labelColor":"#333333","padding":0}}}},
{"data":{"name":"surface"},"transform":[
{"window":[{"op":"lead","field":"t","as":"t2"},{"op":"lead","field":"p","as":"p2"}],"groupby":["s"],"sort":[{"field":"p"}]},
{"filter":"isValid(datum.p2) && datum.p>0 && datum.p<14.5"},
{"calculate":"(datum.t+datum.t2)/2","as":"temp"},
{"calculate":"690+(15-datum.p)*42.67-datum.s*2.635","as":"u"},{"calculate":"1034-(15-datum.p)*16.87-datum.s*1.52-(datum.t-600)*1.537","as":"v"},
{"calculate":"690+(15-datum.p2)*42.67-datum.s*2.635","as":"u2"},{"calculate":"1034-(15-datum.p2)*16.87-datum.s*1.52-(datum.t2-600)*1.537","as":"v2"}],
"mark":{"type":"rule","strokeWidth":26,"strokeCap":"butt","strokeOpacity":0.35},
"encoding":{"x":{"field":"u","type":"quantitative","axis":null},"y":{"field":"v","type":"quantitative","axis":null},"x2":{"field":"u2"},"y2":{"field":"v2"},"color":{"field":"temp","type":"quantitative",
"legend":{"title":null,"orient":"none","legendX":490,"legendY":145,"direction":"vertical","gradientLength":306,"gradientThickness":64,"gradientStrokeColor":"#333333","gradientStrokeWidth":3,"values":[650,700,750,800,850],"labelOffset":-134,"labelFont":"Liberation Sans","labelFontSize":32,"labelColor":"#333333","padding":0}}}},
{"data":{"name":"labels"},"transform":[{"filter":"datum.k=='z'"},{"calculate":"690+(15-datum.p)*42.67-datum.s*2.635","as":"u"},{"calculate":"1034-(15-datum.p)*16.87-datum.s*1.52-(datum.z-600)*1.537","as":"v"}],
"mark":{"type":"text","align":"right","baseline":"middle","dx":-29,"dy":-14,"fontSize":36,"color":"#333333"},"encoding":{"x":{"field":"u","type":"quantitative","axis":null},"y":{"field":"v","type":"quantitative","axis":null},"text":{"field":"text"}}},
{"data":{"name":"labels"},"transform":[{"filter":"datum.k=='s'"},{"calculate":"690+(15-datum.p)*42.67-datum.s*2.635","as":"u"},{"calculate":"1034-(15-datum.p)*16.87-datum.s*1.52-(datum.z-600)*1.537","as":"v"}],
"mark":{"type":"text","align":"right","baseline":"middle","dx":-31,"dy":35,"fontSize":36,"color":"#333333"},"encoding":{"x":{"field":"u","type":"quantitative","axis":null},"y":{"field":"v","type":"quantitative","axis":null},"text":{"field":"text"}}},
{"data":{"name":"labels"},"transform":[{"filter":"datum.k=='p'"},{"calculate":"690+(15-datum.p)*42.67-datum.s*2.635","as":"u"},{"calculate":"1034-(15-datum.p)*16.87-datum.s*1.52-(datum.z-600)*1.537","as":"v"}],
"mark":{"type":"text","align":"left","baseline":"middle","dx":31,"dy":41,"fontSize":36,"color":"#333333"},"encoding":{"x":{"field":"u","type":"quantitative","axis":null},"y":{"field":"v","type":"quantitative","axis":null},"text":{"field":"text"}}},
{"data":{"name":"labels"},"transform":[{"filter":"datum.k=='ts'"},{"calculate":"690+(15-datum.p)*42.67-datum.s*2.635","as":"u"},{"calculate":"1034-(15-datum.p)*16.87-datum.s*1.52-(datum.z-600)*1.537","as":"v"}],
"mark":{"type":"text","align":"center","baseline":"middle","dx":-124,"dy":81,"fontSize":40,"color":"#333333"},"encoding":{"x":{"field":"u","type":"quantitative","axis":null},"y":{"field":"v","type":"quantitative","axis":null},"text":{"field":"text"}}},
{"data":{"name":"labels"},"transform":[{"filter":"datum.k=='tp'"},{"calculate":"690+(15-datum.p)*42.67-datum.s*2.635","as":"u"},{"calculate":"1034-(15-datum.p)*16.87-datum.s*1.52-(datum.z-600)*1.537","as":"v"}],
"mark":{"type":"text","align":"center","baseline":"middle","dx":0,"dy":99,"fontSize":40,"color":"#333333"},"encoding":{"x":{"field":"u","type":"quantitative","axis":null},"y":{"field":"v","type":"quantitative","axis":null},"text":{"field":"text"}}},
{"data":{"name":"labels"},"transform":[{"filter":"datum.k=='tz'"},{"calculate":"690+(15-datum.p)*42.67-datum.s*2.635","as":"u"},{"calculate":"1034-(15-datum.p)*16.87-datum.s*1.52-(datum.z-600)*1.537","as":"v"}],
"mark":{"type":"text","align":"center","baseline":"middle","angle":270,"dy":-132,"fontSize":40,"color":"#333333"},"encoding":{"x":{"field":"u","type":"quantitative","axis":null},"y":{"field":"v","type":"quantitative","axis":null},"text":{"field":"text"}}}
]},
{"width":1167,"height":1013,"view":{"stroke":"#333333","strokeWidth":3},
"title":{"text":"(b)","orient":"bottom","frame":"group","font":"Liberation Serif","fontWeight":"bold","fontSize":60,"color":"black","anchor":"start","dx":495,"offset":78},
"data":{"name":"t2"},
"layer":[
{"mark":{"type":"line","strokeJoin":"miter"},
"encoding":{
"x":{"field":"n","type":"quantitative","scale":{"domain":[0,160],"nice":false,"zero":false},
"axis":{"orient":"bottom","values":[0,20,40,60,80,100,120,140,160],"labelExpr":"datum.value%40==0?datum.label:''","title":"Samples(n)","titleFont":"Liberation Sans","titleFontSize":43,"titleFontWeight":"normal","titleColor":"#333333","titlePadding":24,"labelFont":"Liberation Sans","labelFontSize":34,"labelColor":"#333333","labelPadding":20,"labelFlush":false,"labelOverlap":false,"grid":true,"gridColor":"#dcdcdc","gridWidth":2,"domain":false,"tickColor":"#333333","tickWidth":2.5,"tickSize":-12}},
"y":{"field":"v","type":"quantitative","scale":{"domain":[0,100],"nice":false,"zero":false},
"axis":{"orient":"left","values":[0,10,20,30,40,50,60,70,80,90,100],"title":"T² statistic","titleFont":"Liberation Sans","titleFontSize":43,"titleFontWeight":"normal","titleColor":"#333333","titlePadding":34,"labelFont":"Liberation Sans","labelFontSize":34,"labelColor":"#333333","labelPadding":16,"labelFlush":false,"grid":true,"gridColor":"#dcdcdc","gridWidth":2,"domain":false,"tickColor":"#333333","tickWidth":2.5,"tickSize":-12}},
"color":{"field":"series","type":"nominal","scale":{"domain":["T²","Threshold"],"range":["#0000ff","#ff0000"]},
"legend":{"title":null,"orient":"none","legendX":836,"legendY":28,"strokeColor":"#333333","fillColor":"white","padding":8,"symbolSize":12100,"clipHeight":47,"rowPadding":5,"labelOffset":9,"labelLimit":300,"labelFont":"Liberation Sans","labelFontSize":36,"labelColor":"#1a1a1a","symbolType":"stroke"}},
"strokeDash":{"field":"series","type":"nominal","scale":{"domain":["T²","Threshold"],"range":[[1,0],[26,10]]},
"legend":{"title":null,"orient":"none","legendX":836,"legendY":28,"strokeColor":"#333333","fillColor":"white","padding":8,"symbolSize":12100,"clipHeight":47,"rowPadding":5,"labelOffset":9,"labelLimit":300,"labelFont":"Liberation Sans","labelFontSize":36,"labelColor":"#1a1a1a","symbolType":"stroke"}},
"strokeWidth":{"field":"series","type":"nominal","scale":{"domain":["T²","Threshold"],"range":[6.5,3]},
"legend":{"title":null,"orient":"none","legendX":836,"legendY":28,"strokeColor":"#333333","fillColor":"white","padding":8,"symbolSize":12100,"clipHeight":47,"rowPadding":5,"labelOffset":9,"labelLimit":300,"labelFont":"Liberation Sans","labelFontSize":36,"labelColor":"#1a1a1a","symbolType":"stroke"}}
}},
{"mark":{"type":"line","opacity":0},
"encoding":{
"x":{"field":"n","type":"quantitative","axis":{"orient":"top","values":[0,20,40,60,80,100,120,140,160],"labels":false,"title":null,"grid":false,"domain":false,"tickColor":"#333333","tickWidth":2.5,"tickSize":-12}},
"y":{"field":"v","type":"quantitative","axis":{"orient":"right","values":[0,10,20,30,40,50,60,70,80,90,100],"labels":false,"title":null,"grid":false,"domain":false,"tickColor":"#333333","tickWidth":2.5,"tickSize":-12}}
}}
],
"resolve":{"axis":{"x":"independent","y":"independent"}}
}
]}
